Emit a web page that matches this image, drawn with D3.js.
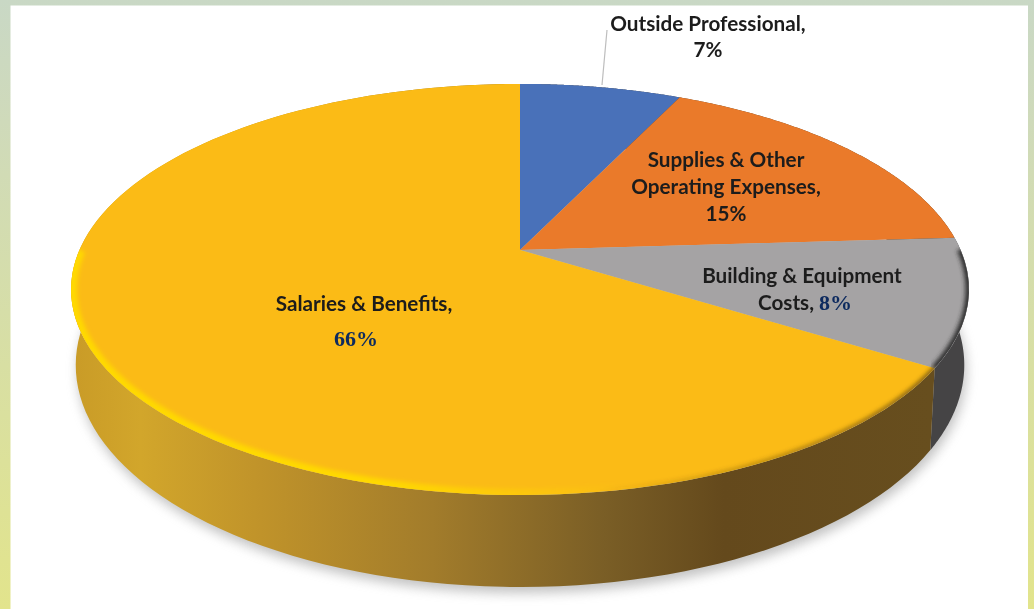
<!DOCTYPE html>
<html>
<head>
<meta charset="utf-8">
<script src="https://cdn.jsdelivr.net/npm/d3@7"></script>
<style>
	html, body { margin: 0; padding: 0; background: #fff; }
	svg { display: block; }
	.name { font-family: Lato, sans-serif; font-weight: 700; font-size: 20.7px; fill: #1c1c1c; text-anchor: middle; }
	.num { font-family: "Liberation Serif", serif; font-weight: 700; font-size: 22px; fill: #0c2a5e; }
</style>
</head>
<body>
<svg id="chart" width="1034" height="609"></svg>
<script>
const categories = ["Outside Professional", "Supplies & Other Operating Expenses", "Building & Equipment Costs", "Salaries & Benefits"];
const shares = [7, 17, 10, 66];
const faceColors = ["#4a71b9", "#ea7a2c", "#a5a3a4", "#fbbb13"];
const printedPercents = ["7%", "15%", "8%", "66%"];

const svg = d3.select("#chart");
const defs = svg.append("defs");

// top rim and bottom rim of the tilted disc (perspective: k)
const k = 0.192;
const topDisc = { x: 520, y: 250, a: 440.6, b: 198 };
const lowDisc = { x: 520, y: 322.4, a: 436, b: 213.8 };

const unit = d3.scaleLinear().domain([-1, 1]).range([-1, 1]);

function project(disc, t) {
	const u = unit(Math.sin(t)), v = unit(Math.cos(t));
	const w = 1 + k * v;
	return [disc.x + disc.a * u / w, disc.y - disc.b * v / w];
}

function rim(disc, t0, t1) {
	return d3.range(0, 121).map(i => project(disc, t0 + (t1 - t0) * i / 120));
}

const line = d3.line();
const slices = d3.pie().sort(null).value(d => d)(shares);
const tau = Math.PI * 2;

// ---- defs
function blur(id, dev) {
	defs.append("filter").attr("id", id)
		.attr("x", "-10%").attr("y", "-10%").attr("width", "120%").attr("height", "120%")
		.append("feGaussianBlur").attr("stdDeviation", dev);
}
blur("shadowBlur", 6);
blur("rimBlur", 2);
blur("softBlur", 0.5);
blur("textBlur", 0.35);

function gradient(id, attrs, stops) {
	const g = defs.append("linearGradient").attr("id", id);
	Object.entries(attrs).forEach(([key, val]) => g.attr(key, val));
	stops.forEach(s => g.append("stop").attr("offset", s[0]).attr("stop-color", s[1]).attr("stop-opacity", s[2] === undefined ? 1 : s[2]));
}
gradient("band", { x1: 0, y1: 0, x2: 0, y2: 1 }, [[0, "#c9d8c5"], [0.2, "#cfdaba"], [0.6, "#d8dfa3"], [1, "#e2e48c"]]);
gradient("wall", { gradientUnits: "userSpaceOnUse", x1: 72, y1: 0, x2: 930, y2: 0 }, [
	[0, "#c99b27"], [0.08, "#d2a62b"], [0.22, "#c0932a"], [0.42, "#a27c2b"], [0.62, "#7a5e26"], [0.76, "#64491c"], [1, "#674e1e"]
]);
gradient("bevelLit", { gradientUnits: "userSpaceOnUse", x1: 380, y1: 0, x2: 620, y2: 0 }, [[0, "#ffd900"], [1, "#ffd900", 0]]);
gradient("bevelDark", { gradientUnits: "userSpaceOnUse", x1: 600, y1: 0, x2: 930, y2: 0 }, [[0, "#5a4010", 0], [1, "#5a4010", 0.75]]);

defs.append("clipPath").attr("id", "topClip").append("path")
	.attr("d", line(rim(topDisc, 0, tau)) + "Z");

// ---- page frame
svg.append("rect").attr("width", 1034).attr("height", 609).attr("fill", "url(#band)");
svg.append("rect").attr("x", 10.5).attr("y", 5.5).attr("width", 1017.5).attr("height", 604).attr("fill", "#fff");

// ---- shadow below the disc
svg.append("path")
	.attr("d", line(rim(lowDisc, 0, tau)) + "Z")
	.attr("transform", "translate(2,6)")
	.attr("fill", "#8f8f8f")
	.attr("opacity", 0.55)
	.attr("filter", "url(#shadowBlur)");

// ---- side walls
const wallFill = ["#3f3f3f", "#5a3a18", "#454445", "url(#wall)"];
svg.append("g").selectAll("path")
	.data(slices)
	.join("path")
	.attr("d", d => line(rim(topDisc, d.startAngle, d.endAngle).concat(rim(lowDisc, d.startAngle, d.endAngle).reverse())) + "Z")
	.attr("fill", (d, i) => wallFill[i]);

// ---- top faces
svg.append("g").attr("filter", "url(#softBlur)").selectAll("path")
	.data(slices)
	.join("path")
	.attr("d", d => line([[topDisc.x, topDisc.y]].concat(rim(topDisc, d.startAngle, d.endAngle))) + "Z")
	.attr("fill", (d, i) => faceColors[i]);

// ---- bevel along the rim
const bevel = svg.append("g").attr("clip-path", "url(#topClip)");
const [, , gray, pay] = slices;
bevel.append("path")
	.attr("d", line(rim(topDisc, gray.startAngle + 0.06, gray.endAngle)))
	.attr("fill", "none").attr("stroke", "#2e2e2e").attr("stroke-width", 7).attr("filter", "url(#rimBlur)");
bevel.append("path")
	.attr("d", line(rim(topDisc, pay.startAngle, Math.PI)))
	.attr("fill", "none").attr("stroke", "url(#bevelDark)").attr("stroke-width", 5).attr("filter", "url(#rimBlur)");
bevel.append("path")
	.attr("d", line(rim(topDisc, Math.PI * 0.9, Math.PI * 1.5)))
	.attr("fill", "none").attr("stroke", "url(#bevelLit)").attr("stroke-width", 12).attr("filter", "url(#rimBlur)");

// ---- leader line
svg.append("line")
	.attr("x1", 602).attr("y1", 85).attr("x2", 607).attr("y2", 30)
	.attr("stroke", "#bdbdbd").attr("stroke-width", 1.2);

// ---- labels
const labels = svg.append("g").attr("filter", "url(#textBlur)");

function name(txt, x, y) {
	labels.append("text").attr("class", "name").attr("x", x).attr("y", y).text(txt);
}

name("Outside Professional,", 708, 31);
name(printedPercents[0], 708, 57);
name("Supplies & Other", 726, 167);
name("Operating Expenses,", 726, 194);
name(printedPercents[1], 726, 221);
name("Building & Equipment", 802, 283);
name("Costs,", 786, 310);
labels.append("text").attr("class", "num").attr("x", 819).attr("y", 310).text(printedPercents[2]);
name("Salaries & Benefits,", 364, 311);
labels.append("text").attr("class", "num").attr("x", 334).attr("y", 346).text(printedPercents[3]);
</script>
</body>
</html>
